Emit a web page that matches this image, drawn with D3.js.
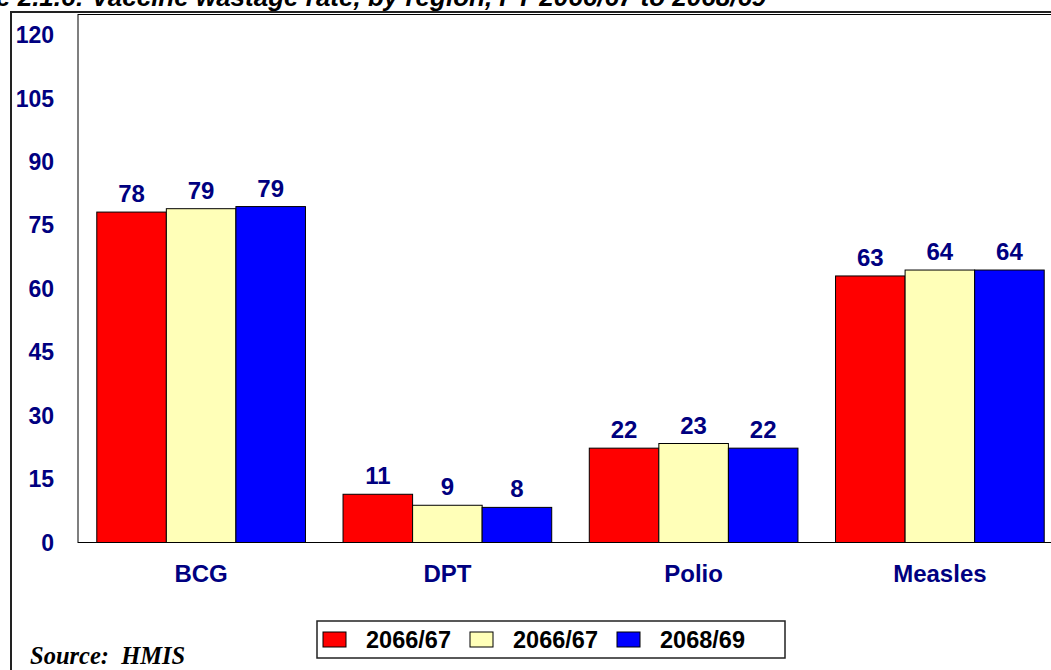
<!DOCTYPE html>
<html>
<head>
<meta charset="utf-8">
<script src="https://cdn.jsdelivr.net/npm/d3@7"></script>
<style>
  body { margin: 0; background: #fff; }
  svg { display: block; font-family: "Liberation Sans", Arial, sans-serif; }
</style>
</head>
<body>
<div id="chart"></div>
<script>
// vaccine wastage data
const vaccines = ["BCG", "DPT", "Polio", "Measles"];
const years = ["2066/67", "2066/67", "2068/69"];
const rate2066 = [78.1, 11.4, 22.3, 63.0];
const rate2067 = [78.9, 8.8, 23.4, 64.4];
const rate2068 = [79.4, 8.3, 22.3, 64.4];
const yTicks = [0, 15, 30, 45, 60, 75, 90, 105, 120];
const colors = ["#ff0000", "#ffffb8", "#0000ff"];

const series = [rate2066, rate2067, rate2068];
const width = 1051, height = 670;
const navy = "#000080";

const svg = d3.select("#chart").append("svg")
  .attr("width", width).attr("height", height);

//title, cut off at the top like the source image
svg.append("text")
  .attr("x", -4).attr("y", 6)
  .attr("font-size", 26).attr("font-weight", "bold").attr("font-style", "italic")
  .text("e 2.1.6: Vaccine wastage rate, by region, FY 2066/67 to 2068/69");

//outer frame
svg.append("rect")
  .attr("x", 11).attr("y", 12).attr("width", 1100).attr("height", 700)
  .attr("fill", "none").attr("stroke", "#222").attr("stroke-width", 2);

//plot area
const plot = { left: 78, top: 14.5, bottom: 542.5, right: 1063 };

const x = d3.scaleBand().domain(vaccines).range([plot.left, plot.right]);
const xInner = d3.scaleBand().domain(d3.range(years.length))
  .range([0, x.bandwidth()]).paddingOuter(0.27);
const y = d3.scaleLinear().domain([0, 124.8]).range([plot.bottom, plot.top]);

svg.append("rect")
  .attr("x", plot.left).attr("y", plot.top)
  .attr("width", plot.right - plot.left).attr("height", plot.bottom - plot.top)
  .attr("fill", "none").attr("stroke", "#000").attr("stroke-width", 1);

//y axis labels, no ticks
svg.append("g").selectAll("text").data(yTicks).join("text")
  .attr("x", 54).attr("y", (d) => y(d))
  .attr("dy", "0.36em").attr("text-anchor", "end")
  .attr("font-size", 23).attr("font-weight", "bold").attr("fill", navy)
  .text((d) => d);

//bars
const groups = svg.append("g").selectAll("g").data(vaccines).join("g")
  .attr("transform", (d) => `translate(${x(d)},0)`);

groups.selectAll("rect")
  .data((d, i) => series.map((s, k) => ({ k, v: s[i] })))
  .join("rect")
  .attr("x", (d) => xInner(d.k))
  .attr("y", (d) => y(d.v))
  .attr("width", xInner.bandwidth())
  .attr("height", (d) => y(0) - y(d.v))
  .attr("fill", (d) => colors[d.k])
  .attr("stroke", "#000").attr("stroke-width", 1);

groups.selectAll("text.val")
  .data((d, i) => series.map((s, k) => ({ k, v: s[i] })))
  .join("text")
  .attr("class", "val")
  .attr("x", (d) => xInner(d.k) + xInner.bandwidth() / 2)
  .attr("y", (d) => y(d.v) - 10)
  .attr("text-anchor", "middle")
  .attr("font-size", 24).attr("font-weight", "bold").attr("fill", navy)
  .text((d) => d3.format(".0f")(d.v));

//category labels
svg.append("g").selectAll("text").data(vaccines).join("text")
  .attr("x", (d) => x(d) + x.bandwidth() / 2)
  .attr("y", 582)
  .attr("text-anchor", "middle")
  .attr("font-size", 24).attr("font-weight", "bold").attr("fill", navy)
  .text((d) => d);

//legend
const legend = svg.append("g").attr("transform", "translate(317,621)");
legend.append("rect")
  .attr("width", 468).attr("height", 37)
  .attr("fill", "#fff").attr("stroke", "#222").attr("stroke-width", 1.5);

const items = legend.selectAll("g").data(years).join("g")
  .attr("transform", (d, i) => `translate(${6 + i * 147},0)`);
items.append("rect")
  .attr("y", 11).attr("width", 23).attr("height", 15)
  .attr("fill", (d, i) => colors[i])
  .attr("stroke", "#000").attr("stroke-width", 1);
items.append("text")
  .attr("x", 43).attr("y", 18.5).attr("dy", "0.36em")
  .attr("font-size", 23.5).attr("font-weight", "bold")
  .text((d) => d);

//source note
svg.append("text")
  .attr("x", 30).attr("y", 664)
  .style("font-family", "'Liberation Serif', 'Times New Roman', serif")
  .attr("font-size", 24.5).attr("font-weight", "bold").attr("font-style", "italic")
  .attr("xml:space", "preserve")
  .text("Source:  HMIS");
</script>
</body>
</html>
